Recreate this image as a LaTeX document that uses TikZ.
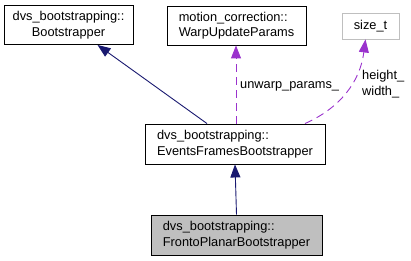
\documentclass[tikz,border=0pt]{standalone}
\usepackage{fontspec}
\setmainfont{Liberation Sans}
\usetikzlibrary{arrows.meta,calc}
\definecolor{inherit}{HTML}{191970}
\definecolor{usage}{HTML}{9A32CD}
\definecolor{boxgray}{HTML}{BFBFBF}
\begin{document}
\begin{tikzpicture}[x=1pt,y=-1pt,
  every node/.style={font=\fontsize{12.8}{15.5}\selectfont, inner sep=0pt},
  classbox/.style={draw=black, line width=0.9pt, fill=white, minimum width=#1, minimum height=39pt},
  leftbox/.style={classbox=#1, align=left},
  midbox/.style={classbox=#1, align=center},
  inh/.style={draw=inherit, line width=0.9pt, -{Triangle[length=13pt,width=10pt]}},
  use/.style={draw=usage, line width=0.9pt, dash pattern=on 8pt off 5pt,
              -{Triangle[length=13pt,width=10pt,fill=usage]}},
  lbl/.style={anchor=west, align=left}]
  \useasboundingbox (0,0) rectangle (411,261);

  % class nodes
  \node[midbox=129pt] (boot) at (68.5,25) {dvs\_bootstrapping::\\Bootstrapper};
  \node[leftbox=139pt] (warp) at (236.5,25.5) {motion\_correction::\\WarpUpdateParams};
  \node[draw=boxgray, line width=0.9pt, minimum width=57pt, minimum height=26pt] (size) at (370.5,26) {size\_t};
  \node[leftbox=180pt, minimum height=40pt] (events) at (235,144) {dvs\_bootstrapping::\\EventsFramesBootstrapper};
  \node[leftbox=171pt, minimum height=40pt, fill=boxgray] (fronto) at (236.5,235) {dvs\_bootstrapping::\\FrontoPlanarBootstrapper};

  % inheritance
  \draw[inh] ($(events.north)+(-28,0)$) -- ($(boot.south)+(29,0)$);
  \draw[inh] (fronto.north) -- (events.south);

  % member usage
  \draw[use] ($(events.north)+(1,0)$) -- (warp.south -| {$(events.north)+(1,0)$});
  \draw[use] ($(events.north)+(70,0)$) .. controls (340,108) and (360,82) .. ($(size.south)+(-5,0)$);

  % member labels
  \node[lbl] (lunwarp) at (240,86) {unwarp\_params\_};
  \node[lbl] (lsize) at (362,84) {height\_\\width\_};
\end{tikzpicture}
\end{document}
